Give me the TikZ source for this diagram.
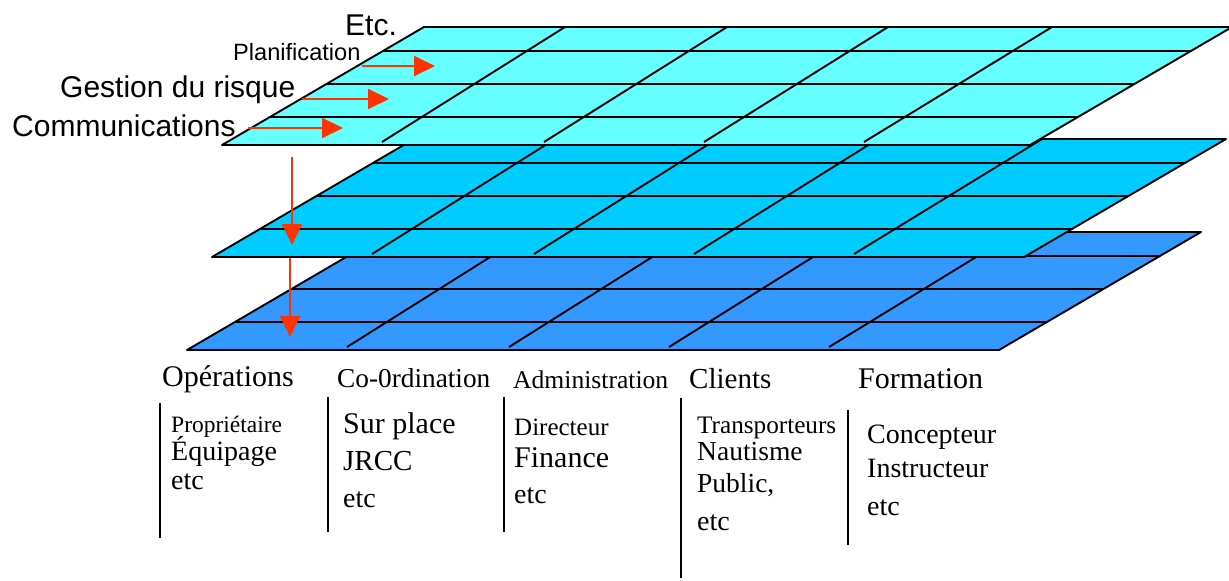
\documentclass[tikz,border=0pt]{standalone}
\usepackage{fontspec}
\setmainfont{Liberation Serif}
\newfontfamily\sidefont{Liberation Sans}
\usetikzlibrary{arrows.meta}
\definecolor{layertop}{HTML}{66FFFF}
\definecolor{layermid}{HTML}{00CCFF}
\definecolor{layerbot}{HTML}{3399FF}
\definecolor{arrowred}{HTML}{FF3300}
\newcommand\fsize[1]{\fontsize{#1}{#1}\selectfont}
\tikzset{
  layer edge/.style={
    draw=black,
    line width=1.9pt,
    line join=round,
  },
  side label/.style={font=\sidefont\fsize{30}, inner sep=0pt, anchor=base west},
  col head/.style={font=\fsize{29}, inner sep=0pt, anchor=base west},
  col item/.style={font=\fsize{28}, inner sep=0pt, anchor=base west},
  col bar/.style={draw=black, line width=1.9pt},
  red arrow/.style={draw=arrowred, line width=2pt, -{Triangle[length=21pt, width=20pt]}},
}

\begin{document}
\begin{tikzpicture}[x=1pt, y=-1pt]
      \useasboundingbox (0,0) rectangle (1229,581);

      % the three layers, back to front
      \foreach \bx/\by/\w/\col in {187/350/812/layerbot, 212/257/812/layermid, 222/145/808/layertop} {
        \filldraw[layer edge, fill=\col] (\bx,\by) -- ++(202,-118) -- ++(\w,0) -- ++(-202,118) -- cycle;
        \foreach \dd in {24,57,90}
          \draw[layer edge] ({\bx+202-\dd*1.712},{\by-118+\dd}) -- ++(\w,0);
        \foreach \tp/\bt in {141/160, 303/322, 464/482, 628/642}
          \draw[layer edge] ({\bx+202+\tp},{\by-118}) -- ({\bx+\bt},{\by-3});
      }

      % labels on the left
      \node[side label] (etc) at (345,35) {Etc.};
      \node[side label, font=\sidefont\fsize{23.6}] (plan) at (233,60) {Planification};
      \node[side label] (risk) at (60,97) {Gestion du risque};
      \node[side label] (comm) at (12,136) {Communications};

      \coordinate (plan-a) at (362,66);
      \coordinate (plan-b) at (435,66);
      \coordinate (risk-a) at (302,99);
      \coordinate (risk-b) at (389,99);
      \coordinate (comm-a) at (248,128);
      \coordinate (comm-b) at (343,128);
      \draw[red arrow] (plan-a) -- (plan-b);
      \draw[red arrow] (risk-a) -- (risk-b);
      \draw[red arrow] (comm-a) -- (comm-b);

      \coordinate (down1-a) at (292,157);
      \coordinate (down1-b) at (292,245);
      \coordinate (down2-a) at (290,258);
      \coordinate (down2-b) at (290,337);
      \draw[red arrow] (down1-a) -- (down1-b);
      \draw[red arrow] (down2-a) -- (down2-b);

      % columns below
      \node[col head, font=\fsize{30}] (ops) at (162,386) {Opérations};
      \node[col head, font=\fsize{27.3}] (coord) at (337,387) {Co-0rdination};
      \node[col head, font=\fsize{25.6}] (admin) at (513,388) {Administration};
      \node[col head] (clients) at (689,388) {Clients};
      \node[col head, font=\fsize{30}] (form) at (858,388) {Formation};

      \draw[col bar] (160,403) -- (160,538);
      \draw[col bar] (328,397) -- (328,532);
      \draw[col bar] (504,397) -- (504,532);
      \draw[col bar] (681,398) -- (681,578);
      \draw[col bar] (848,410) -- (848,545);

      \node[col item, font=\fsize{23.5}] (ops1) at (171,432) {Propriétaire};
      \node[col item] (ops2) at (171,460) {Équipage};
      \node[col item] (ops3) at (171,489) {etc};

      \node[col item, font=\fsize{30}] (coord1) at (343,433) {Sur place};
      \node[col item, font=\fsize{29}] (coord2) at (343,470) {JRCC};
      \node[col item] (coord3) at (343,507) {etc};

      \node[col item, font=\fsize{25}] (admin1) at (514,435) {Directeur};
      \node[col item, font=\fsize{30}] (admin2) at (514,467) {Finance};
      \node[col item] (admin3) at (514,503) {etc};

      \node[col item, font=\fsize{25.2}] (clients1) at (697,433) {Transporteurs};
      \node[col item, font=\fsize{27.5}] (clients2) at (697,460) {Nautisme};
      \node[col item, font=\fsize{27.5}] (clients3) at (697,492) {Public,};
      \node[col item] (clients4) at (697,530) {etc};

      \node[col item] (form1) at (867,443) {Concepteur};
      \node[col item] (form2) at (867,477) {Instructeur};
      \node[col item] (form3) at (867,515) {etc};
\end{tikzpicture}
\end{document}
